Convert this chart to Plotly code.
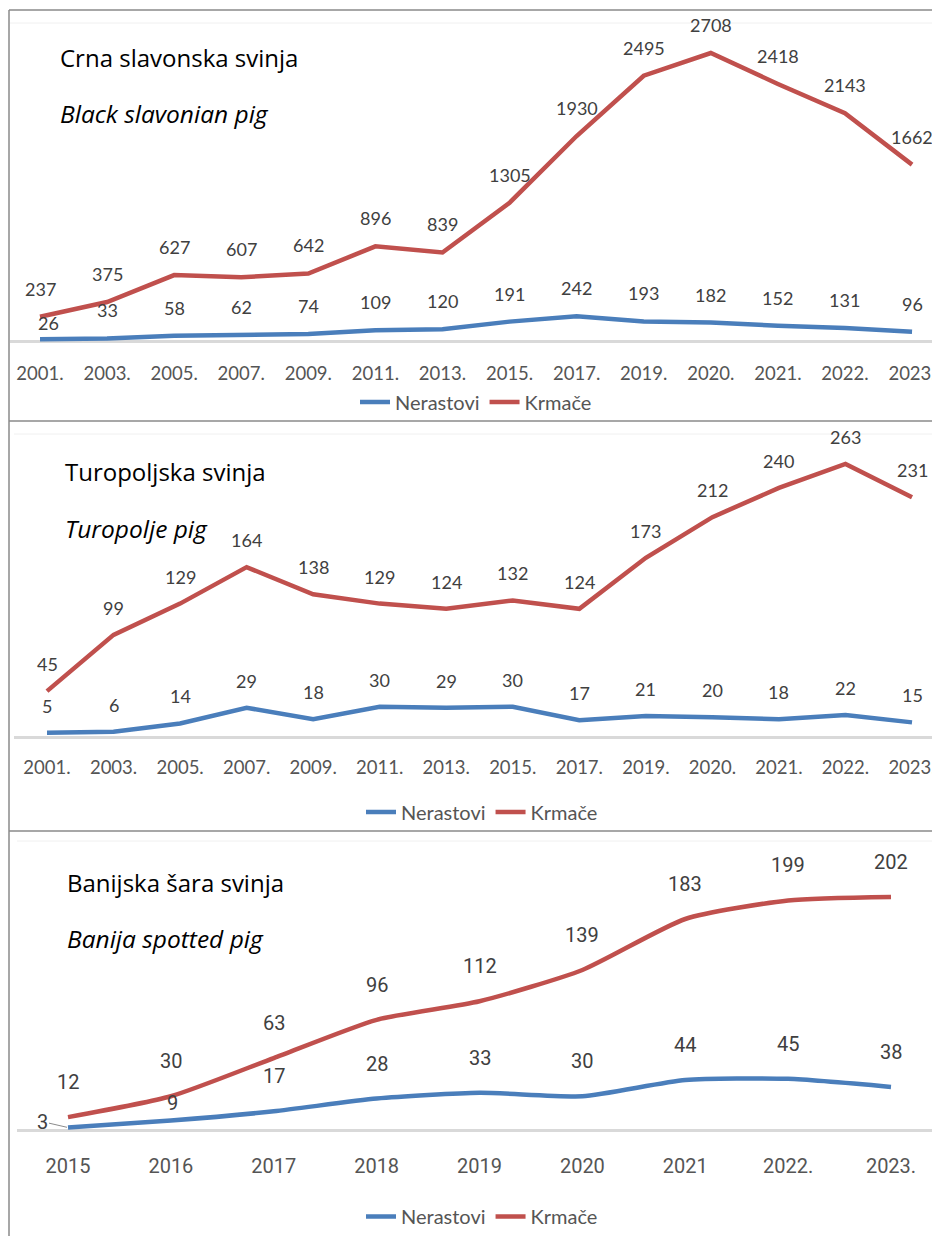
import plotly.graph_objects as go

# ---------------- data ----------------
years_a = ["2001.", "2003.", "2005.", "2007.", "2009.", "2011.", "2013.",
           "2015.", "2017.", "2019.", "2020.", "2021.", "2022.", "2023."]
crna_nerastovi = [26, 33, 58, 62, 74, 109, 120, 191, 242, 193, 182, 152, 131, 96]
crna_krmace = [237, 375, 627, 607, 642, 896, 839, 1305, 1930, 2495, 2708, 2418, 2143, 1662]

turo_nerastovi = [5, 6, 14, 29, 18, 30, 29, 30, 17, 21, 20, 18, 22, 15]
turo_krmace = [45, 99, 129, 164, 138, 129, 124, 132, 124, 173, 212, 240, 263, 231]

years_b = ["2015", "2016", "2017", "2018", "2019", "2020", "2021", "2022.", "2023."]
banija_nerastovi = [3, 9, 17, 28, 33, 30, 44, 45, 38]
banija_krmace = [12, 30, 63, 96, 112, 139, 183, 199, 202]

titles = ["Crna slavonska svinja", "Turopoljska svinja", "Banijska šara svinja"]
subtitles = ["Black slavonian pig", "Turopolje pig", "Banija spotted pig"]
series_names = ["Nerastovi", "Krmače"]

# ---------------- styling / layout ----------------
OFF = 8                      # page body margin
WP, HP = 940, 1236           # target page size
W, H = WP - OFF, HP - OFF    # figure size
BLUE = "#4a7ebb"
RED = "#c0504d"
LABEL_COLOR = "#404040"
TICK_COLOR = "#555555"
FONT = "Lato, 'Open Sans', sans-serif"
TITLE_FONT = "'Open Sans', 'Noto Sans', sans-serif"
NARROW = "Roboto, Lato, sans-serif"


def px(x):
    return (x - OFF) / W


def py(y):
    return 1 - (y - OFF) / H


panels = [
    dict(cats=years_a, ner=crna_nerastovi, krm=crna_krmace, x0=40, step=67.08,
         left=10, zero=342, scale=289 / 2708, yr=(-60, 3000), shift=28,
         title_y=57, sub_y=113, standoff=12, legend_y=402, legend_x=476,
         tick_font=FONT, tick_size=18.5, label_font=FONT, label_size=18,
         shape="linear", title_x=58),
    dict(cats=years_a, ner=turo_nerastovi, krm=turo_krmace, x0=47, step=66.54,
         left=14, zero=738, scale=274 / 263, yr=(-8, 280), shift=27,
         title_y=472, sub_y=528, standoff=8, legend_y=812, legend_x=482,
         tick_font=FONT, tick_size=18.5, label_font=FONT, label_size=18,
         shape="linear", title_x=63),
    dict(cats=years_b, ner=banija_nerastovi, krm=banija_krmace, x0=68, step=102.875,
         left=17, zero=1131, scale=234 / 202, yr=(-6, 225), shift=35,
         title_y=882, sub_y=938, standoff=14, legend_y=None, legend_x=482,
         tick_font=NARROW, tick_size=20, label_font=NARROW, label_size=20,
         shape="spline", title_x=65),
]

# individual label offsets (xshift, yshift) that differ from the default
special = {
    (0, 0, 0): (8, 16),   # "26"
    (2, 0, 1): (2, 18),   # "9"
}

fig = go.Figure()
annotations = []
shapes = []

for pi, p in enumerate(panels):
    suffix = "" if pi == 0 else str(pi + 1)
    xa, ya = "x" + suffix, "y" + suffix
    legend_name = "legend" + suffix
    ymin, ymax = p["yr"]
    bottom_px = p["zero"] + (0 - ymin) * p["scale"]
    top_px = p["zero"] - ymax * p["scale"]
    r0 = (p["left"] - p["x0"]) / p["step"]
    r1 = (WP - p["x0"]) / p["step"]

    fig.update_layout({
        "xaxis" + suffix: dict(
            domain=[px(p["left"]), 1], anchor=ya, type="category",
            range=[r0, r1], showgrid=False, zeroline=False, showline=False,
            ticks="", ticklabelstandoff=p["standoff"], ticklabeloverflow="allow",
            tickfont=dict(family=p["tick_font"], size=p["tick_size"], color=TICK_COLOR),
            fixedrange=True,
        ),
        "yaxis" + suffix: dict(
            domain=[py(bottom_px), py(top_px)], anchor=xa, range=[ymin, ymax],
            showgrid=False, showticklabels=False, zeroline=True,
            zerolinecolor="#d9d9d9", zerolinewidth=2.5, showline=False,
            fixedrange=True,
        ),
    })

    for si, (vals, color, name) in enumerate(
            [(p["ner"], BLUE, series_names[0]), (p["krm"], RED, series_names[1])]):
        line = dict(color=color, width=4.5, shape=p["shape"])
        if p["shape"] == "spline":
            line["smoothing"] = 0.6
        fig.add_trace(go.Scatter(
            x=p["cats"], y=vals, mode="lines", name=name, line=line,
            xaxis=xa, yaxis=ya, legend=legend_name, hoverinfo="skip",
        ))
        for i, v in enumerate(vals):
            lab_font = dict(family=p["label_font"], size=p["label_size"], color=LABEL_COLOR)
            if pi == 2 and si == 0 and i == 0:
                # "3" with its leader line
                annotations.append(dict(
                    x=i, y=v, xref=xa, yref=ya, text=str(v),
                    showarrow=True, arrowhead=0, arrowwidth=1, arrowcolor="#8c8c8c",
                    ax=-26, ay=-6, standoff=1, font=lab_font,
                ))
                continue
            xs, ys = special.get((pi, si, i), (0, p["shift"]))
            annotations.append(dict(
                x=i, y=v, xref=xa, yref=ya, text=str(v),
                showarrow=False, xshift=xs, yshift=ys, font=lab_font,
            ))

    # titles
    annotations.append(dict(
        x=px(p["title_x"]), y=py(p["title_y"]), xref="paper", yref="paper",
        xanchor="left", yanchor="middle", showarrow=False, text=titles[pi],
        font=dict(family=TITLE_FONT, size=24, color="#000000"),
    ))
    annotations.append(dict(
        x=px(p["title_x"]), y=py(p["sub_y"]), xref="paper", yref="paper",
        xanchor="left", yanchor="middle", showarrow=False,
        text="<i>" + subtitles[pi] + "</i>",
        font=dict(family=TITLE_FONT, size=24.5, color="#000000"),
    ))

    if p["legend_y"] is None:
        leg_y, leg_anchor = 0, "bottom"      # sits on the bottom edge of the page
    else:
        leg_y, leg_anchor = py(p["legend_y"]), "middle"
    fig.update_layout({
        legend_name: dict(
            orientation="h", x=px(p["legend_x"]), y=leg_y,
            xanchor="center", yanchor=leg_anchor, bgcolor="rgba(0,0,0,0)",
            font=dict(family=FONT, size=20, color=TICK_COLOR),
            itemclick=False, itemdoubleclick=False,
        )
    })

# panel borders
BORDER = "#8a8a8a"
for yb in [10, 421, 831]:
    shapes.append(dict(type="line", xref="paper", yref="paper",
                       x0=px(9), x1=1, y0=py(yb), y1=py(yb),
                       line=dict(color=BORDER, width=1.5)))
shapes.append(dict(type="line", xref="paper", yref="paper",
                   x0=px(9), x1=px(9), y0=py(10), y1=0,
                   line=dict(color=BORDER, width=1.5)))
# faint chart-area lines
for yb, xl in [(23, 10), (434, 14), (841, 17)]:
    shapes.append(dict(type="line", xref="paper", yref="paper",
                       x0=px(xl), x1=1, y0=py(yb), y1=py(yb),
                       line=dict(color="#f0f0f0", width=1)))

fig.update_layout(
    width=W, height=H, margin=dict(l=0, r=0, t=0, b=0, autoexpand=False),
    paper_bgcolor="white", plot_bgcolor="white",
    annotations=annotations, shapes=shapes, showlegend=True,
)

fig.write_html("out.html")
